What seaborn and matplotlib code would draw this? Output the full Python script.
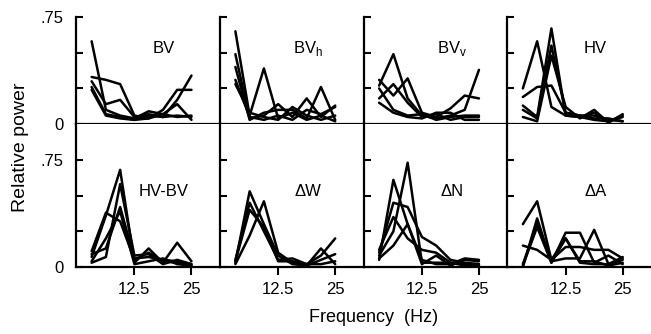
import numpy as np
import pandas as pd
import matplotlib
matplotlib.use("Agg")
import matplotlib.pyplot as plt
import seaborn as sns

sns.set_style("ticks")
plt.rcParams["font.family"] = ["Liberation Sans", "DejaVu Sans"]
plt.rcParams.update({"text.color": "black", "axes.labelcolor": "black",
                     "xtick.color": "black", "ytick.color": "black",
                     "axes.edgecolor": "black"})

# ---- data (relative power at each FFT bin, several traces per condition) ----
FREQS = [3.125, 6.25, 9.375, 12.5, 15.625, 18.75, 21.875, 25.0]

BV = [
    [0.58, 0.10, 0.06, 0.04, 0.09, 0.07, 0.05, 0.06],
    [0.33, 0.31, 0.28, 0.06, 0.04, 0.10, 0.24, 0.24],
    [0.30, 0.14, 0.17, 0.05, 0.07, 0.05, 0.17, 0.34],
    [0.26, 0.07, 0.05, 0.03, 0.06, 0.05, 0.06, 0.05],
    [0.24, 0.06, 0.04, 0.03, 0.04, 0.07, 0.14, 0.03],
]
BV_H = [
    [0.65, 0.06, 0.39, 0.04, 0.08, 0.03, 0.06, 0.02],
    [0.49, 0.04, 0.06, 0.14, 0.05, 0.18, 0.05, 0.13],
    [0.40, 0.03, 0.08, 0.10, 0.10, 0.04, 0.26, 0.03],
    [0.31, 0.05, 0.03, 0.06, 0.03, 0.10, 0.07, 0.12],
    [0.28, 0.08, 0.05, 0.03, 0.12, 0.06, 0.03, 0.06],
]
BV_V = [
    [0.27, 0.49, 0.18, 0.06, 0.04, 0.06, 0.10, 0.38],
    [0.31, 0.20, 0.32, 0.08, 0.05, 0.11, 0.20, 0.18],
    [0.18, 0.28, 0.15, 0.05, 0.07, 0.03, 0.05, 0.05],
    [0.15, 0.08, 0.05, 0.04, 0.08, 0.08, 0.03, 0.03],
    [0.25, 0.10, 0.06, 0.07, 0.03, 0.05, 0.06, 0.06],
]
HV = [
    [0.25, 0.58, 0.12, 0.06, 0.05, 0.03, 0.02, 0.05],
    [0.19, 0.26, 0.27, 0.08, 0.06, 0.04, 0.04, 0.02],
    [0.13, 0.05, 0.67, 0.06, 0.05, 0.08, 0.02, 0.06],
    [0.10, 0.04, 0.55, 0.08, 0.06, 0.06, 0.03, 0.02],
    [0.05, 0.02, 0.48, 0.12, 0.04, 0.10, 0.01, 0.07],
]
HV_BV = [
    [0.11, 0.38, 0.32, 0.05, 0.10, 0.04, 0.03, 0.01],
    [0.07, 0.36, 0.68, 0.03, 0.13, 0.03, 0.17, 0.04],
    [0.03, 0.07, 0.58, 0.08, 0.09, 0.02, 0.05, 0.02],
    [0.09, 0.13, 0.42, 0.06, 0.07, 0.05, 0.04, 0.02],
    [0.04, 0.20, 0.39, 0.02, 0.04, 0.06, 0.02, 0.01],
]
DW = [
    [0.03, 0.53, 0.30, 0.08, 0.02, 0.01, 0.13, 0.02],
    [0.05, 0.45, 0.25, 0.05, 0.06, 0.02, 0.08, 0.20],
    [0.02, 0.22, 0.46, 0.10, 0.03, 0.01, 0.05, 0.09],
    [0.04, 0.40, 0.28, 0.04, 0.04, 0.02, 0.02, 0.04],
]
DN = [
    [0.05, 0.61, 0.30, 0.05, 0.02, 0.02, 0.06, 0.05],
    [0.08, 0.25, 0.73, 0.03, 0.03, 0.03, 0.02, 0.02],
    [0.10, 0.45, 0.42, 0.21, 0.15, 0.05, 0.03, 0.02],
    [0.12, 0.35, 0.20, 0.12, 0.10, 0.03, 0.01, 0.01],
    [0.06, 0.15, 0.30, 0.02, 0.08, 0.01, 0.05, 0.04],
]
DA = [
    [0.30, 0.46, 0.05, 0.20, 0.03, 0.02, 0.02, 0.05],
    [0.15, 0.12, 0.05, 0.14, 0.14, 0.12, 0.12, 0.06],
    [0.00, 0.34, 0.03, 0.24, 0.24, 0.03, 0.08, 0.02],
    [0.02, 0.30, 0.04, 0.06, 0.06, 0.26, 0.02, 0.07],
    [0.01, 0.28, 0.03, 0.20, 0.04, 0.04, 0.01, 0.03],
]

PANELS = [
    ("BV", BV), ("BV$_\\mathregular{h}$", BV_H), ("BV$_\\mathregular{v}$", BV_V), ("HV", HV),
    ("HV-BV", HV_BV), ("\u0394W", DW), ("\u0394N", DN), ("\u0394A", DA),
]

XTICKS = [12.5, 25]
XTICKLABELS = ["12.5", "25"]
YTICKS = [0, 0.25, 0.5, 0.75]
YTICKLABELS = ["0", "", "", ".75"]

# ---- figure ----
W, H = 651, 334
fig = plt.figure(figsize=(W / 100, H / 100), dpi=100)
gs = fig.add_gridspec(2, 4, left=76 / W, right=1.0, top=1 - 17 / H, bottom=1 - 267 / H,
                      height_ratios=[0.75, 1.0], hspace=0, wspace=0)

for i, (name, traces) in enumerate(PANELS):
    row, col = divmod(i, 4)
    ax = fig.add_subplot(gs[row, col])
    df = pd.DataFrame(
        [(j, f, v) for j, tr in enumerate(traces) for f, v in zip(FREQS, tr)],
        columns=["trace", "freq", "power"],
    )
    sns.lineplot(data=df, x="freq", y="power", units="trace", estimator=None,
                 color="black", lw=1.8, ax=ax, legend=False)

    ax.set_xlim(-0.3, 31.2)
    ax.set_ylim(0, 0.75 if row == 0 else 1.0)
    for s in ["top", "right"]:
        ax.spines[s].set_visible(False)
    for s in ["left", "bottom"]:
        ax.spines[s].set_linewidth(1.6)
        ax.spines[s].set_color("black")

    ax.set_xticks(XTICKS)
    ax.set_yticks(YTICKS)
    ax.tick_params(axis="x", direction="out", length=6, width=1.5, pad=5, labelsize=12)
    ax.tick_params(axis="y", direction="in", length=5, width=1.5, pad=9, labelsize=12)
    ax.set_xticklabels(XTICKLABELS if row == 1 else [])
    ax.set_yticklabels(YTICKLABELS if col == 0 else [])
    ax.set_xlabel("")
    ax.set_ylabel("")

    ax.text(19, 0.53, name, ha="center", va="center", fontsize=12)

fig.text(21 / W, 1 - 147 / H, "Relative power", rotation=90, ha="center", va="center", fontsize=14)
fig.text(374 / W, 1 - 317 / H, "Frequency  (Hz)", ha="center", va="center", fontsize=13)

fig.savefig("out.png", dpi=100)
